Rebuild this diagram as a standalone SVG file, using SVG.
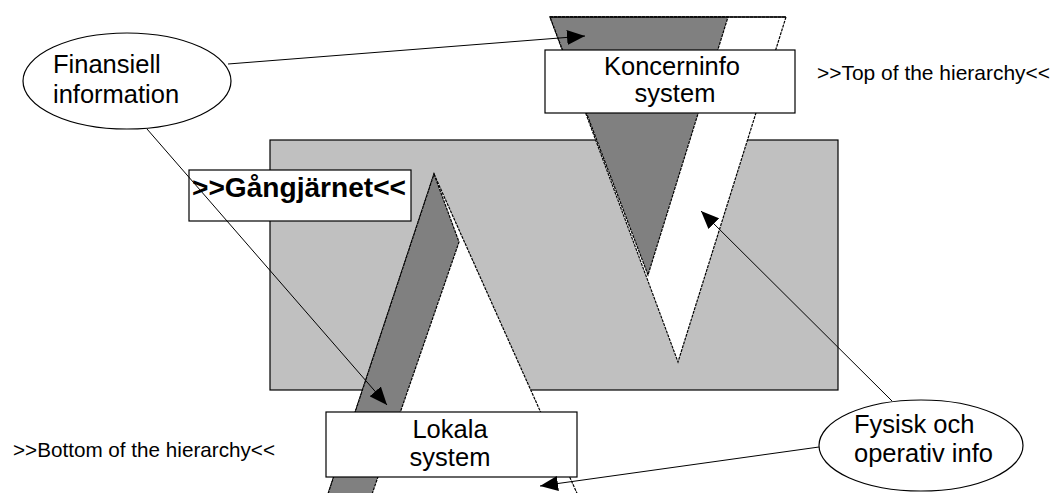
<svg xmlns="http://www.w3.org/2000/svg" width="1055" height="493" viewBox="0 0 1055 493">
  <defs>
    <marker id="arrow" markerUnits="userSpaceOnUse" markerWidth="18" markerHeight="15" refX="18" refY="7.5" orient="auto">
      <path d="M0,0 L18,7.5 L0,15 z" fill="#000"/>
    </marker>
  </defs>
  <style>
    .box { fill: #fff; stroke: #000; stroke-width: 1.2; }
    .bubble { fill: #fff; stroke: #000; stroke-width: 1.2; }
    .edge { stroke: #000; stroke-width: 1.2; stroke-dasharray: 3 1; }
    .lbl { font-family: "Liberation Sans", Arial, sans-serif; font-size: 25.5px; fill: #000; }
    .note { font-family: "Liberation Sans", Arial, sans-serif; font-size: 20.7px; fill: #000; }
    .conn { stroke: #000; stroke-width: 1; fill: none; marker-end: url(#arrow); }
  </style>

  <!-- organisation area -->
  <g id="area">
    <rect x="270" y="140" width="568" height="250" fill="#c0c0c0" stroke="#000" stroke-width="1.2"/>
  </g>

  <!-- inverted wedge: top of the hierarchy -->
  <g id="top-wedge">
    <polygon points="550,17 786,17 678,362" fill="#fff" class="edge"/>
    <polygon points="550,17 728,17 648,275" fill="#808080" class="edge"/>
    <line x1="550" y1="17" x2="786" y2="17" stroke="#000" stroke-width="1.5"/>
  </g>

  <!-- upright wedge: bottom of the hierarchy -->
  <g id="bottom-wedge">
    <polygon points="434,174 580,500 326,500" fill="#fff" class="edge"/>
    <polygon points="434,174 459,242 370,500 326,500" fill="#808080" class="edge"/>
  </g>

  <g id="koncerninfo">
    <rect class="box" x="545" y="50" width="250" height="63"/>
    <text class="lbl" x="672" y="75" text-anchor="middle">Koncerninfo</text>
    <text class="lbl" x="675" y="102" text-anchor="middle">system</text>
  </g>

  <g id="gangjarnet">
    <rect class="box" x="189" y="170" width="222" height="51"/>
    <text x="192" y="197" font-family="Liberation Sans, Arial, sans-serif" font-size="27" font-weight="bold" textLength="214" lengthAdjust="spacingAndGlyphs">&gt;&gt;Gångjärnet&lt;&lt;</text>
  </g>

  <g id="lokala">
    <rect class="box" x="326" y="412" width="251" height="65"/>
    <text class="lbl" x="450" y="438" text-anchor="middle">Lokala</text>
    <text class="lbl" x="450" y="466" text-anchor="middle">system</text>
  </g>

  <g id="finansiell">
    <ellipse class="bubble" cx="127" cy="81" rx="104" ry="48"/>
    <text class="lbl" x="53" y="73">Finansiell</text>
    <text class="lbl" x="53" y="103">information</text>
  </g>

  <g id="fysisk">
    <ellipse class="bubble" cx="921" cy="445.5" rx="102" ry="45.5"/>
    <text class="lbl" x="854" y="433">Fysisk och</text>
    <text class="lbl" x="854" y="462">operativ info</text>
  </g>

  <g id="captions">
    <text class="note" x="817" y="80" textLength="233" lengthAdjust="spacingAndGlyphs">&gt;&gt;Top of the hierarchy&lt;&lt;</text>
    <text class="note" x="13" y="457" textLength="262" lengthAdjust="spacingAndGlyphs">&gt;&gt;Bottom of the hierarchy&lt;&lt;</text>
  </g>

  <g id="connectors">
    <line class="conn" x1="228" y1="64" x2="585" y2="36"/>
    <line class="conn" x1="147" y1="129" x2="387" y2="405"/>
    <line class="conn" x1="892" y1="401" x2="701" y2="211"/>
    <line class="conn" x1="819" y1="447" x2="540" y2="486"/>
  </g>
</svg>
